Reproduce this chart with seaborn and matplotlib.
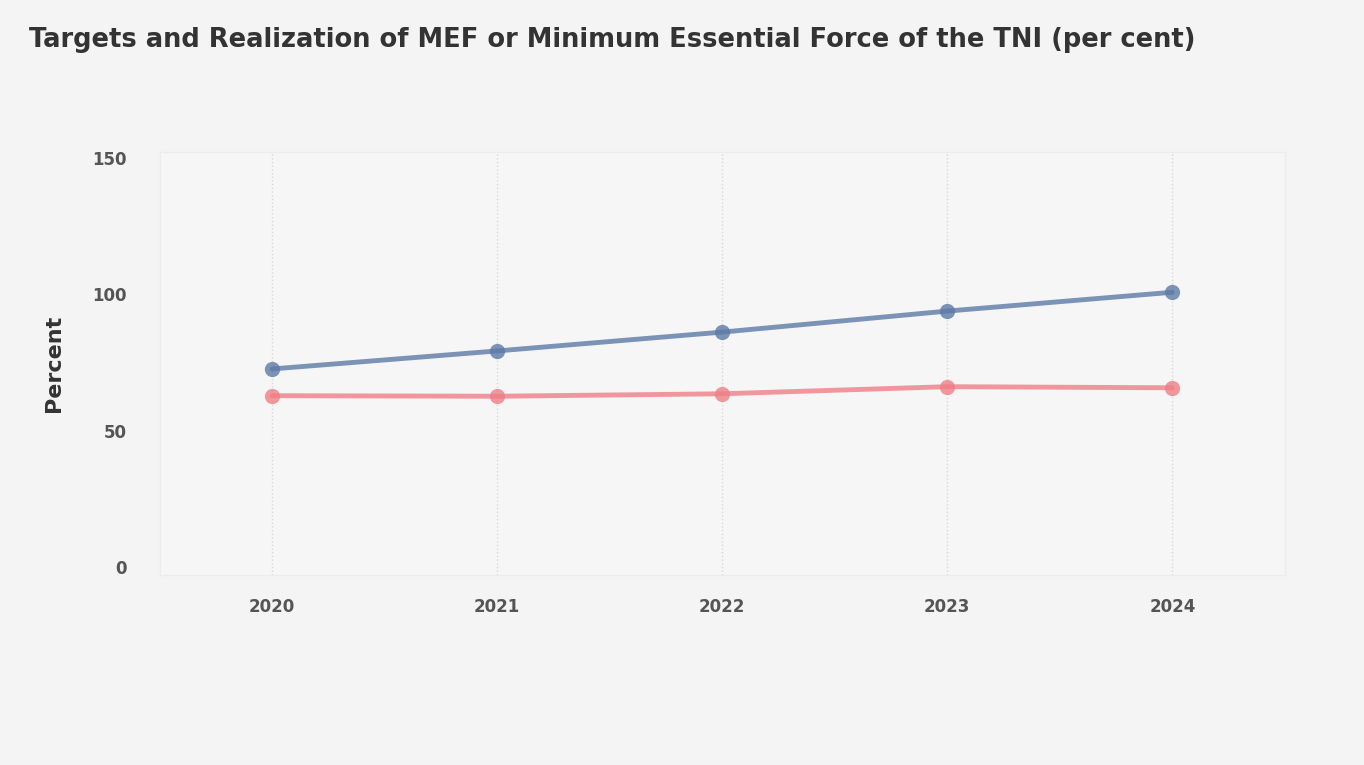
import matplotlib
matplotlib.use("Agg")
import matplotlib.pyplot as plt
import seaborn as sns
import pandas as pd

years = [2020, 2021, 2022, 2023, 2024]
target = [72.6, 79.2, 86.1, 93.8, 100.7]
realization = [62.8, 62.6, 63.5, 66.1, 65.7]
series_names = ["Target", "Realization"]
y_ticks = [0, 50, 100, 150]

df = pd.DataFrame({
    "year": years * 2,
    "value": target + realization,
    "series": [series_names[0]] * len(years) + [series_names[1]] * len(years),
})

sns.set_theme(style="white")
plt.rcParams["font.family"] = ["DejaVu Sans"]

fig = plt.figure(figsize=(13.64, 7.65), dpi=100, facecolor="#f4f4f4")
ax = fig.add_axes([0.117, 0.248, 0.825, 0.553])
ax.set_facecolor("#f6f6f6")

palette = {"Target": "#5d7aa6", "Realization": "#ef7f88"}
sns.lineplot(data=df, x="year", y="value", hue="series", palette=palette,
             marker="o", markersize=11, linewidth=3.5, markeredgewidth=0,
             legend=False, ax=ax, alpha=0.8)

ax.set_xlim(2019.5, 2024.5)
ax.set_ylim(-3, 152)
ax.set_xticks(years)
ax.set_xticklabels([str(y) for y in years])
ax.set_yticks(y_ticks)
ax.tick_params(axis="x", pad=16, labelsize=12, colors="#555555", length=0)
ax.tick_params(axis="y", pad=24, labelsize=12, colors="#555555", length=0)
for lbl in ax.get_xticklabels() + ax.get_yticklabels():
    lbl.set_fontweight("bold")

ax.grid(axis="x", linestyle=":", color="#d8d8d8", linewidth=1)
ax.grid(axis="y", visible=False)
for s in ax.spines.values():
    s.set_color("#ececec")
    s.set_linewidth(1)

ax.set_xlabel("")
ax.set_ylabel("Percent", fontsize=16, fontweight="bold", color="#333333", labelpad=20)

fig.text(0.021, 0.948, "Targets and Realization of MEF or Minimum Essential Force of the TNI (per cent)",
         fontsize=18.5, fontweight="bold", color="#333333", ha="left", va="center")

fig.savefig("out.png", dpi=100, facecolor=fig.get_facecolor())
